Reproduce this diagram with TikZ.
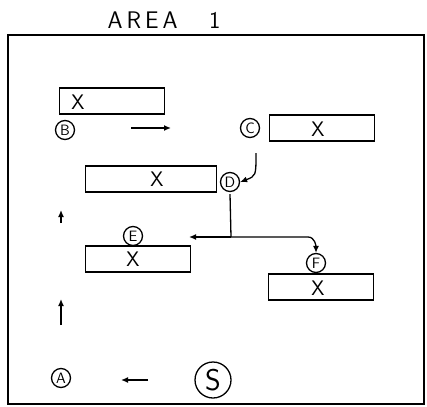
\documentclass[tikz,border=0pt]{standalone}
\usetikzlibrary{arrows.meta}
\begin{document}
\begin{tikzpicture}[x=1pt,y=-1pt,line width=1.3pt,font=\sffamily]
  \tikzstyle{letter}=[circle,draw,minimum size=19pt,inner sep=0pt,font=\sffamily\fontsize{15}{16}\selectfont]
  \tikzstyle{table}=[draw,rectangle,minimum width=105pt,minimum height=26pt]
  \tikzstyle{cross}=[inner sep=0pt,font=\sffamily\fontsize{21}{22}\selectfont]
  \tikzstyle{line} = [draw, -{Latex[length=7pt,width=6pt]}]
  \useasboundingbox (0,0) rectangle (427,406);
  % headers
  \node (title) at (164,20) {\fontsize{24}{26}\selectfont A\,R\,E\,A\quad\ 1};
  \coordinate (frameNW) at (8,35);
  \coordinate (frameSE) at (424,404);
  \draw (frameNW) rectangle (frameSE);
  % tables
  \node[table] (tabB) at (112,101) {};
  \node[table] (tabC) at (322,128) {};
  \node[table,minimum width=131pt] (tabD) at (151,179) {};
  \node[table] (tabE) at (138,259) {};
  \node[table] (tabF) at (321,287) {};
  \node[cross] (xB) at (78,102) {X};
  \node[cross] (xC) at (318,129) {X};
  \node[cross] (xD) at (157,179) {X};
  \node[cross] (xE) at (133,259) {X};
  \node[cross] (xF) at (318,288) {X};
  % stops
  \node[letter] (A) at (61,378) {A};
  \node[letter] (B) at (65,130) {B};
  \node[letter] (C) at (250,128) {C};
  \node[letter] (D) at (230,182) {D};
  \node[letter] (E) at (133,236) {E};
  \node[letter] (F) at (316,263) {F};
  \node[letter,minimum size=36pt,font=\sffamily\fontsize{30}{32}\selectfont] (S) at (213,380) {S};
  % route
  \coordinate (sa1) at (148,380);
  \coordinate (sa2) at (121,380);
  \draw[line] (sa1) -- (sa2);
  \coordinate (up1) at (61,325);
  \coordinate (up2) at (61,299);
  \draw[line] (up1) -- (up2);
  \coordinate (up3) at (61,223);
  \coordinate (up4) at (61,210);
  \draw[line] (up3) -- (up4);
  \coordinate (bc1) at (131,128);
  \coordinate (bc2) at (171,128);
  \draw[line] (bc1) -- (bc2);
  \coordinate (cd) at (256,153);
  \draw[line] (cd) .. controls (256,176) .. (D.east);
  \coordinate (split) at (231,237);
  \coordinate (toE) at (189,237);
  \coordinate (turnF) at (308,237);
  \draw (D.south) ++(0,2) -- (split);
  \draw[line] (split) -- (toE);
  \draw[line] (split) -- (turnF) to[out=0,in=90] (F.north);
\end{tikzpicture}
\end{document}
